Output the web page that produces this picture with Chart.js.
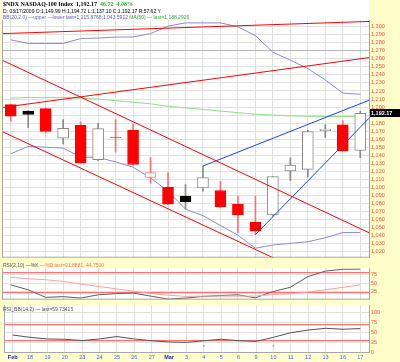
<!DOCTYPE html>
<html><head><meta charset="utf-8">
<script src="https://cdn.jsdelivr.net/npm/chart.js@4/dist/chart.umd.min.js"></script>
<style>
html,body{margin:0;padding:0;background:#ffffcc;}
#wrap{position:relative;width:400px;height:362px;background:#ffffcc;overflow:hidden;}
canvas{position:absolute;left:0;}
.hdr{position:absolute;left:3px;white-space:nowrap;font-family:"Liberation Sans",Arial,sans-serif;font-size:5px;line-height:6px;color:#000;}
.ser{font-family:"Liberation Serif","Times New Roman",serif;font-size:6px;font-weight:bold;}
.g{color:#2fae2f;} .b{color:#6060c0;} .p{color:#ff6a6a;} .k{color:#555;}
</style></head>
<body><div id="wrap">
<canvas id="main" width="400" height="263" style="top:0"></canvas>
<canvas id="rsi" width="400" height="42" style="top:263px"></canvas>
<canvas id="rsibb" width="400" height="65" style="top:297px"></canvas>
<div class="hdr ser" style="top:1px">$NDX NASDAQ-100 Index&nbsp; 1,192.17&nbsp; <span class="g">46.72&nbsp; 4.08%</span></div>
<div class="hdr" style="top:8px">D: 03/17/2009 O:1,149.99 H:1,194.72 L:1,137.10 C:1,192.17 R:57.62 Y</div>
<div class="hdr b" style="top:14px">BB(20,2.0) —upper —lower last=1,215.8768;1,043.5912 <span class="g">MA(50) — last=1,188.2926</span></div>
<div class="hdr k" style="top:262px">RSI(2,10) —%K <span class="p">—%D last=91.8881, 44.7500</span></div>
<div class="hdr k" style="top:306px">RSI_BB(14,2) — last=59.73415</div>
</div>
<script>
// ---------- data ----------
const categories = ["2009-02-17","2009-02-18","2009-02-19","2009-02-20","2009-02-23","2009-02-24","2009-02-25","2009-02-26","2009-02-27","2009-03-02","2009-03-03","2009-03-04","2009-03-05","2009-03-06","2009-03-09","2009-03-10","2009-03-11","2009-03-12","2009-03-13","2009-03-16","2009-03-17"];
const dateLabels = ["Feb","18","19","20","23","24","25","26","27","Mar","3","4","5","6","9","10","11","12","13","16","17"];
const opens  = [1203.0,1195.0,1198.0,1161.3,1177.2,1134.5,1162.5,1171.1,1112.2,1100.0,1089.0,1099.3,1096.0,1078.9,1056.5,1065.5,1120.4,1122.3,1170.7,1177.7,1146.0];
const highs  = [1203.5,1195.5,1199.0,1184.5,1181.3,1179.6,1184.5,1178.4,1137.0,1118.3,1103.3,1126.5,1107.3,1089.0,1089.0,1113.4,1136.6,1171.0,1178.0,1183.0,1194.7];
const lows   = [1182.6,1174.4,1168.0,1154.0,1129.5,1133.0,1143.9,1127.5,1105.0,1078.0,1073.0,1095.1,1075.0,1043.5,1041.0,1064.0,1108.2,1113.0,1162.0,1145.0,1137.0];
const closes = [1188.7,1190.7,1169.5,1173.5,1130.5,1173.2,1162.0,1128.4,1118.3,1078.9,1082.0,1112.2,1075.6,1065.9,1045.5,1113.4,1127.7,1169.5,1172.5,1145.45,1192.17];
const priorClose = 1215;
const bbUpper = [1283.8,1279.3,1279.3,1279.3,1285.4,1286.0,1287.2,1287.4,1291.5,1300.9,1304.9,1304.9,1304.9,1300.0,1289.0,1268.3,1258.5,1247.9,1233.8,1217.4,1215.88];
const bbLower = [1141.8,1150.9,1150.0,1148.8,1137.8,1137.0,1131.7,1125.0,1111.6,1095.1,1072.6,1064.6,1052.4,1040.2,1024.0,1028.0,1030.1,1032.1,1037.0,1043.5,1043.59];
const ma50    = [1211,1212,1212,1212,1211,1210,1208,1206,1204,1201,1199,1197,1195,1193,1191,1190,1189,1188.5,1188.3,1188.2,1188.29];
const stochK  = [44.7,29.7,7.2,9.4,5.0,14.8,18.4,20.0,11.0,2.0,5.0,10.0,12.6,14.8,5.8,24.5,37.3,69.4,85.8,91.2,91.89];
const stochD  = [67,63,60,55,47,40,33,26,19,14,10,11,11,11,11,16,18,23,30,37,44.75];
const rsiBB   = [43.8,38,34,33.2,30,34,40,34,29.7,26.5,25.5,29.7,33.2,29.7,28,38,49.5,56,60.4,58,59.73];
const signalDots = [{x:11,y:17},{x:15,y:17}];
const priceTicks = [1020,1030,1040,1050,1060,1070,1080,1090,1100,1110,1120,1130,1140,1150,1160,1170,1180,1190,1200,1210,1220,1230,1240,1250,1260,1270,1280,1290,1300];
const rsiTicks = [25,50,75];
const rsiLevels = [20,80];
const bbTicks = [0,25,50,75,100];
const bbLevels = [30,70];
// user trend lines (index position, price)
const trendRed1 = [{x:-0.5,y:1291.5},{x:20.5,y:1306.7}];
const trendRed2 = [{x:-0.5,y:1199.4},{x:20.5,y:1261.6}];
const channelTop = [{x:-0.5,y:1258.5},{x:20.5,y:1043.3}];
const channelBottom = [{x:-0.5,y:1169.5},{x:16,y:1002.2}];
const blueUpper = [{x:11,y:1126.5},{x:20.5,y:1208.5}];
const blueLower = [{x:14,y:1041},{x:20.5,y:1186}];

// ---------- styling helpers ----------
Chart.defaults.font.family = '"Liberation Sans", Arial, sans-serif';
const RED = '#ff0000', LBL = '#ff4a3a';
const prev = closes.map((c,i)=> i===0 ? priorClose : closes[i-1]);
const isUp = closes.map((c,i)=> c >= prev[i]);
const isFilled = closes.map((c,i)=> c < opens[i]);
const bodyFill = closes.map((c,i)=> isFilled[i] ? (isUp[i] ? '#000000' : RED) : '#ffffff');
const bodyBorder = closes.map((c,i)=> isUp[i] ? (isFilled[i] ? '#000000' : '#8a8a8a') : (isFilled[i] ? RED : '#ff7a7a'));
const wickColor = closes.map((c,i)=> isUp[i] ? '#8a8a8a' : '#ff7070');

const panelBg = {
  id:'panelBg',
  beforeDraw(chart, args, opts){
    const {ctx, chartArea:a} = chart;
    ctx.save();
    ctx.fillStyle = '#ffffff';
    const top = (opts && opts.top !== undefined) ? opts.top : a.top;
    ctx.fillRect(a.left, top, a.right - a.left, a.bottom - top);
    ctx.restore();
  },
  afterDraw(chart){
    const {ctx, chartArea:a} = chart;
    ctx.save();
    ctx.strokeStyle = '#a8a8a8'; ctx.lineWidth = 1;
    ctx.beginPath();
    ctx.moveTo(a.left+0.5, a.top); ctx.lineTo(a.left+0.5, a.bottom);
    ctx.moveTo(a.right+0.5, a.top); ctx.lineTo(a.right+0.5, a.bottom);
    ctx.moveTo(a.left, a.bottom-0.5); ctx.lineTo(a.right+1, a.bottom-0.5);
    ctx.stroke();
    ctx.restore();
  }
};
const priceBox = {
  id:'priceBox',
  afterDraw(chart){
    const y = chart.scales.y.getPixelForValue(closes[closes.length-1]);
    const a = chart.chartArea, ctx = chart.ctx;
    ctx.save();
    ctx.fillStyle = '#000';
    ctx.fillRect(a.right+1, Math.round(y)-4, chart.width - a.right - 1, 8);
    ctx.fillStyle = '#fff';
    ctx.font = 'bold 5.5px "Liberation Sans", Arial, sans-serif';
    ctx.textBaseline = 'middle';
    ctx.fillText(closes[closes.length-1].toLocaleString('en-US',{minimumFractionDigits:2}), a.right+2, Math.round(y));
    ctx.restore();
  }
};

const xGrid = { offset:false, color:'#e0e0e0', drawTicks:false, lineWidth:1 };
const baseOpts = {
  responsive:false, animation:false, devicePixelRatio:1,
  plugins:{ legend:{display:false}, tooltip:{enabled:false} },
};
const x2Scale = { type:'linear', min:-0.5, max:20.5, display:false, offset:false, grid:{offset:false} };

// ---------- main price chart ----------
new Chart(document.getElementById('main'), {
  type:'bar',
  data:{
    labels: categories,
    datasets:[
      {type:'line', data:bbUpper, borderColor:'#8c8cd0', borderWidth:1, pointRadius:0, order:5},
      {type:'line', data:bbLower, borderColor:'#8c8cd0', borderWidth:1, pointRadius:0, order:5},
      {type:'line', data:ma50, borderColor:'#8ce08c', borderWidth:1, pointRadius:0, order:5},
      {type:'bar', data:lows.map((l,i)=>[l,highs[i]]), backgroundColor:wickColor, barThickness:1, grouped:false, order:4},
      {type:'bar', data:opens.map((o,i)=>[o,closes[i]]), backgroundColor:bodyFill, borderColor:bodyBorder, borderWidth:1, borderSkipped:false, barThickness:11, grouped:false, order:3},
      {type:'line', xAxisID:'x2', data:trendRed1, borderColor:RED, borderWidth:1, pointRadius:0, order:1},
      {type:'line', xAxisID:'x2', data:trendRed2, borderColor:RED, borderWidth:1, pointRadius:0, order:1},
      {type:'line', xAxisID:'x2', data:channelTop, borderColor:RED, borderWidth:1, pointRadius:0, order:1},
      {type:'line', xAxisID:'x2', data:channelBottom, borderColor:RED, borderWidth:1, pointRadius:0, order:1},
      {type:'line', xAxisID:'x2', data:blueUpper, borderColor:'#1f3fff', borderWidth:1, pointRadius:0, order:1},
      {type:'line', xAxisID:'x2', data:blueLower, borderColor:'#1f3fff', borderWidth:1, pointRadius:0, order:1}
    ]
  },
  options:{
    ...baseOpts,
    layout:{ padding:{left:2, top:20, right:0, bottom:0} },
    plugins:{ ...baseOpts.plugins, panelBg:{top:0} },
    scales:{
      x:{ type:'category', offset:true, grid:xGrid, border:{display:false}, ticks:{display:false} },
      x2: x2Scale,
      y:{ position:'right', min:1012.2, max:1308.5,
          afterFit(s){ s.width = 31; },
          afterBuildTicks(s){ s.ticks = priceTicks.map(v=>({value:v})); },
          grid:{ color:(c)=> (c.tick && c.tick.value===1270) ? '#b8b8b8' : '#e2e2e2', drawTicks:false },
          border:{display:false},
          ticks:{ color:LBL, font:{size:5.5}, padding:2, autoSkip:false,
            callback:(v)=> Math.abs(v - closes[closes.length-1]) < 5 ? '' : v.toLocaleString('en-US') } }
    }
  },
  plugins:[panelBg, priceBox]
});

// ---------- stochastic / RSI panel ----------
new Chart(document.getElementById('rsi'), {
  type:'line',
  data:{ labels:categories, datasets:[
    {data:stochD, borderColor:'#ffa0a0', borderWidth:1, pointRadius:0},
    {data:stochK, borderColor:'#606060', borderWidth:1, pointRadius:0}
  ]},
  options:{
    ...baseOpts,
    layout:{ padding:{left:2, top:0, right:0, bottom:0} },
    scales:{
      x:{ type:'category', offset:true, grid:xGrid, border:{display:false}, ticks:{display:false} },
      y:{ position:'right', min:0.2, max:94.2,
          afterFit(s){ s.width = 31; },
          afterBuildTicks(s){ s.ticks = rsiTicks.concat(rsiLevels).map(v=>({value:v})); },
          grid:{ color:(c)=> (c.tick && rsiLevels.includes(c.tick.value)) ? '#ff7070' : '#e2e2e2',
                 lineWidth:(c)=> (c.tick && rsiLevels.includes(c.tick.value)) ? 1.3 : 1, drawTicks:false },
          border:{display:false},
          ticks:{ color:LBL, font:{size:5.5}, padding:2, autoSkip:false, callback:(v)=> rsiLevels.includes(v) ? '' : String(v) } }
    }
  },
  plugins:[panelBg]
});

// ---------- RSI_BB panel ----------
new Chart(document.getElementById('rsibb'), {
  type:'line',
  data:{ labels:categories, datasets:[
    {data:rsiBB, borderColor:'#555555', borderWidth:1, pointRadius:0},
    {type:'scatter', xAxisID:'x2', data:signalDots, backgroundColor:'#40c040', borderWidth:0, pointRadius:1, pointStyle:'rect'}
  ]},
  options:{
    ...baseOpts,
    layout:{ padding:{left:2, top:8, right:0, bottom:0} },
    scales:{
      x:{ type:'category', offset:true, grid:xGrid, border:{display:false},
          afterFit(s){ s.height = 9; },
          ticks:{ maxRotation:0, autoSkip:false, padding:1,
                  callback:(v,i)=> dateLabels[i],
                  color:(c)=> /[A-Za-z]/.test(dateLabels[c.index]) ? '#1a1acc' : '#4060ff',
                  font:(c)=> ({size:5.5, weight: /[A-Za-z]/.test(dateLabels[c.index]) ? 'bold' : 'normal'}) } },
      x2: x2Scale,
      y:{ position:'right', min:-0.7, max:118,
          afterFit(s){ s.width = 31; },
          afterBuildTicks(s){ s.ticks = bbTicks.concat(bbLevels).map(v=>({value:v})); },
          grid:{ color:(c)=> (c.tick && bbLevels.includes(c.tick.value)) ? '#ff7070' : '#e2e2e2',
                 lineWidth:(c)=> (c.tick && bbLevels.includes(c.tick.value)) ? 1.3 : 1, drawTicks:false },
          border:{display:false},
          ticks:{ color:LBL, font:{size:5.5}, padding:2, autoSkip:false, callback:(v)=> bbLevels.includes(v) ? '' : String(v) } }
    }
  },
  plugins:[panelBg]
});
</script>
</body></html>
